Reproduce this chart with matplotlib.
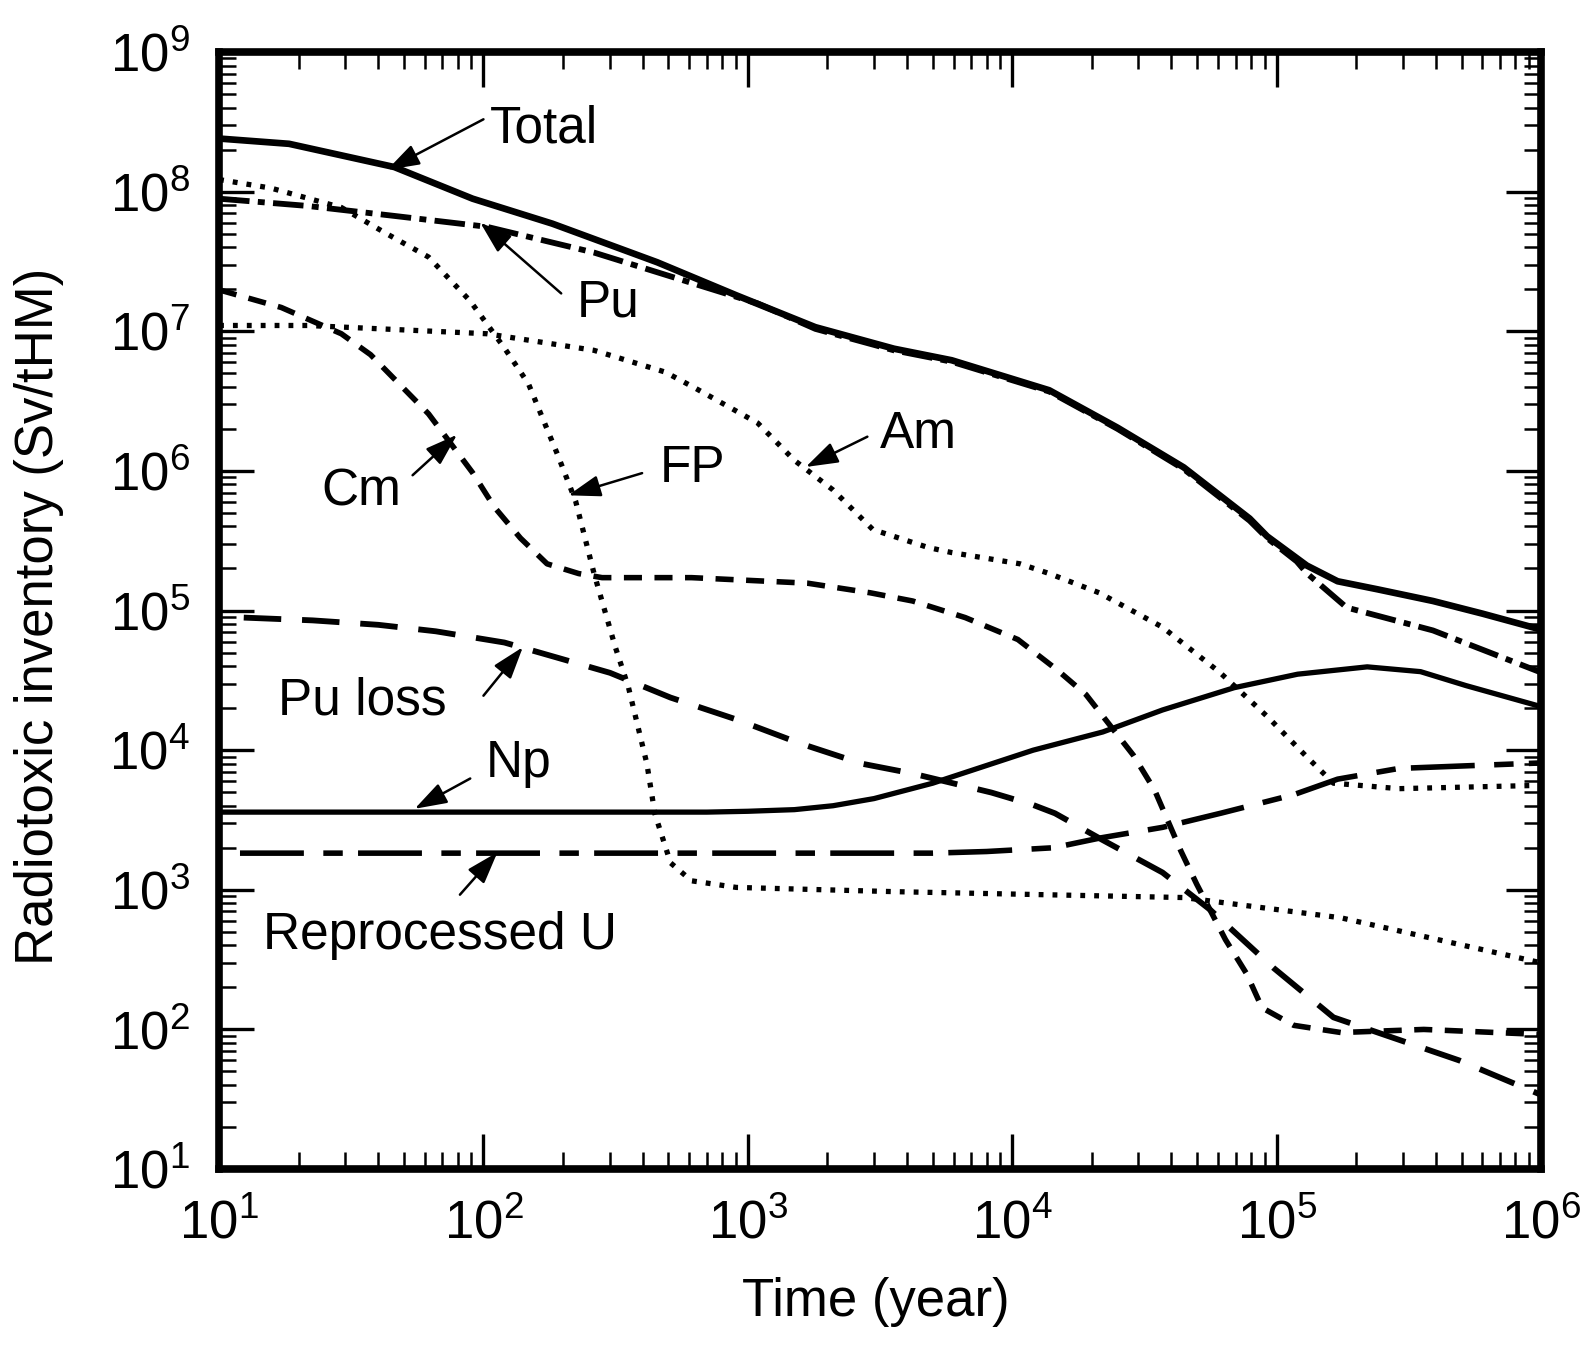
import matplotlib
matplotlib.use('Agg')
import matplotlib.pyplot as plt
from matplotlib.ticker import LogLocator, NullFormatter
import numpy as np

plt.rcParams['font.family'] = ['Liberation Sans', 'DejaVu Sans']
plt.rcParams['mathtext.fontset'] = 'custom'
plt.rcParams['mathtext.rm'] = 'Liberation Sans'
plt.rcParams['mathtext.default'] = 'regular'
plt.rcParams['lines.scale_dashes'] = False

# values (years, Sv/tHM)
total_t = [10, 18.4, 46, 91, 182, 454, 904, 1800, 3570, 5900, 1.38e4, 2.5e4, 4.45e4, 7.9e4, 9.2e4, 1.3e5, 1.7e5, 2.4e5, 3.9e5, 6e5, 1e6]
total_v = [2.4e8, 2.2e8, 1.5e8, 8.9e7, 5.9e7, 3.12e7, 1.81e7, 1.07e7, 7.5e6, 6.2e6, 3.78e6, 2.04e6, 1.06e6, 4.56e5, 3.4e5, 2.1e5, 1.62e5, 1.42e5, 1.17e5, 9.5e4, 7.3e4]

pu_t = [10, 21.6, 46, 103, 262, 1090, 1800, 3570, 5900, 1.38e4, 2.5e4, 4.45e4, 7.9e4, 9.2e4, 1.19e5, 1.3e5, 1.84e5, 3.9e5, 1e6]
pu_v = [8.9e7, 7.9e7, 6.7e7, 5.6e7, 3.66e7, 1.58e7, 1.04e7, 7.3e6, 6.05e6, 3.7e6, 2.0e6, 1.03e6, 4.4e5, 3.3e5, 2.25e5, 1.85e5, 1.05e5, 7.2e4, 3.6e4]

fp_t = [10, 15.7, 29, 43, 62, 89, 120, 148, 190, 223, 262, 315, 353, 415, 445, 510, 612, 904, 3570, 4.45e4, 1.75e5, 1e6]
fp_v = [1.22e8, 1.06e8, 7.7e7, 5.0e7, 3.4e7, 1.65e7, 7.6e6, 4.2e6, 1.33e6, 6.1e5, 1.84e5, 5.5e4, 2.85e4, 8.0e3, 3.5e3, 1.56e3, 1.16e3, 1.04e3, 9.7e2, 8.8e2, 6.3e2, 3.0e2]

am_t = [10, 21.6, 103, 262, 487, 627, 1090, 1500, 2100, 2970, 4800, 5900, 1.07e4, 1.38e4, 2.13e4, 3.7e4, 6.1e4, 9.25e4, 1.3e5, 1.64e5, 2.9e5, 1e6]
am_v = [1.1e7, 1.1e7, 9.6e6, 7.3e6, 5.1e6, 3.95e6, 2.2e6, 1.19e6, 7.3e5, 3.8e5, 2.83e5, 2.6e5, 2.16e5, 1.84e5, 1.34e5, 7.6e4, 3.6e4, 1.73e4, 8.95e3, 5.8e3, 5.3e3, 5.6e3]

cm_t = [10, 17.2, 29, 37.4, 48, 62, 91, 110, 138, 174, 229, 281, 612, 1680, 2900, 4200, 6640, 1.05e4, 1.48e4, 1.9e4, 2.87e4, 3.45e4, 4.34e4, 4.98e4, 6.4e4, 7.7e4, 8.8e4, 1.16e5, 1.75e5, 3.6e5, 1e6]
cm_v = [1.98e7, 1.48e7, 9.6e6, 6.8e6, 4.2e6, 2.56e6, 9.7e5, 5.5e5, 3.3e5, 2.16e5, 1.84e5, 1.72e5, 1.72e5, 1.57e5, 1.34e5, 1.17e5, 8.9e4, 6.2e4, 3.75e4, 2.5e4, 9.2e3, 5.2e3, 1.9e3, 1.1e3, 4.4e2, 2.5e2, 1.43e2, 1.07e2, 95, 100, 92]

puloss_t = [12.4, 22.6, 40, 66, 120, 190, 301, 510, 904, 1570, 2700, 4200, 8340, 1.2e4, 1.45e4, 2.18e4, 3.7e4, 5.6e4, 9.7e4, 1.64e5, 4.9e5, 1e6]
puloss_v = [8.9e4, 8.5e4, 7.9e4, 7.1e4, 5.9e4, 4.6e4, 3.58e4, 2.38e4, 1.66e4, 1.12e4, 8.0e3, 6.8e3, 4.97e3, 4.05e3, 3.53e3, 2.29e3, 1.33e3, 7.2e2, 2.77e2, 1.22e2, 60, 34]

np_t = [10, 700, 1000, 1500, 2100, 3000, 5000, 1.2e4, 2.2e4, 3.7e4, 6.9e4, 1.2e5, 2.2e5, 3.5e5, 5.2e5, 1e6]
np_v = [3.6e3, 3.6e3, 3.65e3, 3.75e3, 4.0e3, 4.5e3, 5.8e3, 1.0e4, 1.35e4, 1.94e4, 2.8e4, 3.5e4, 3.95e4, 3.65e4, 2.9e4, 2.05e4]

ru_t = [12, 5000, 8000, 1.43e4, 2.15e4, 3.7e4, 6.2e4, 1.16e5, 1.7e5, 2.9e5, 1e6]
ru_v = [1.83e3, 1.83e3, 1.88e3, 2.0e3, 2.35e3, 2.8e3, 3.55e3, 4.8e3, 6.2e3, 7.4e3, 8.1e3]

fig = plt.figure(figsize=(15.85, 13.47), dpi=100)
ax = fig.add_axes([0.1382, 0.1321, 0.8341, 0.8293])

dotted = (0, (3.5, 6.5))
ax.plot(total_t, total_v, color='black', lw=4.8)
ax.plot(pu_t, pu_v, color='black', lw=4.2, linestyle=(0, (22, 6, 5, 6)))
ax.plot(fp_t, fp_v, color='black', lw=3.8, linestyle=dotted)
ax.plot(am_t, am_v, color='black', lw=3.8, linestyle=dotted)
ax.plot(cm_t, cm_v, color='black', lw=4, linestyle=(0, (13, 9)))
ax.plot(puloss_t, puloss_v, color='black', lw=4.2, linestyle=(0, (27, 15)))
ax.plot(np_t, np_v, color='black', lw=3.8)
ax.plot(ru_t, ru_v, color='black', lw=4, linestyle=(0, (46, 14, 14, 11)))

ax.set_xscale('log')
ax.set_yscale('log')
ax.set_xlim(10, 1e6)
ax.set_ylim(10, 1e9)

ax.xaxis.set_major_locator(LogLocator(base=10, numticks=20))
ax.yaxis.set_major_locator(LogLocator(base=10, numticks=20))
ax.xaxis.set_minor_locator(LogLocator(base=10, subs=np.arange(2, 10), numticks=100))
ax.yaxis.set_minor_locator(LogLocator(base=10, subs=np.arange(2, 10), numticks=100))
ax.xaxis.set_minor_formatter(NullFormatter())
ax.yaxis.set_minor_formatter(NullFormatter())

ax.tick_params(which='major', direction='in', length=25, width=2.4, top=True, right=True,
               labelsize=38)
ax.tick_params(axis='x', which='major', pad=22)
ax.tick_params(axis='y', which='major', pad=21)
ax.tick_params(which='minor', direction='in', length=12, width=1.8, top=True, right=True)
for s in ax.spines.values():
    s.set_linewidth(5.5)

ax.set_xlabel('Time (year)', fontsize=38)
ax.set_ylabel('Radiotoxic inventory (Sv/tHM)', fontsize=38)
ax.xaxis.set_label_coords(0.497, -0.097)
ax.yaxis.set_label_coords(-0.117, 0.495)

arrow = dict(arrowstyle='-|>,head_length=0.9,head_width=0.3', color='black', lw=1.8,
             mutation_scale=22, shrinkA=0, shrinkB=0)

# label text, text anchor (log10 x, log10 y), arrow tail, arrow head
labels = ['Total', 'Pu', 'Am', 'FP', 'Cm', 'Pu loss', 'Np', 'Reprocessed U']
text_pos = [(2.026, 8.445), (2.351, 7.2), (3.498, 6.259), (2.665, 6.02), (1.388, 5.846),
            (1.223, 4.354), (2.007, 3.905), (1.166, 2.675)]
tails = [(2.0, 8.518), (2.294, 7.271), (3.452, 6.245), (2.6, 5.984), (1.732, 5.969),
         (2.0, 4.39), (1.95, 3.797), (1.911, 2.965)]
heads = [(1.636, 8.156), (1.988, 7.778), (3.219, 6.028), (2.321, 5.825), (1.90, 6.259),
         (2.149, 4.738), (1.74, 3.58), (2.053, 3.269)]

for lab, tp, tl, hd in zip(labels, text_pos, tails, heads):
    ax.text(10 ** tp[0], 10 ** tp[1], lab, fontsize=37, ha='left', va='center')
    ax.annotate('', xy=(10 ** hd[0], 10 ** hd[1]), xytext=(10 ** tl[0], 10 ** tl[1]),
                arrowprops=arrow)

fig.savefig('out.png', dpi=100, facecolor='white')
